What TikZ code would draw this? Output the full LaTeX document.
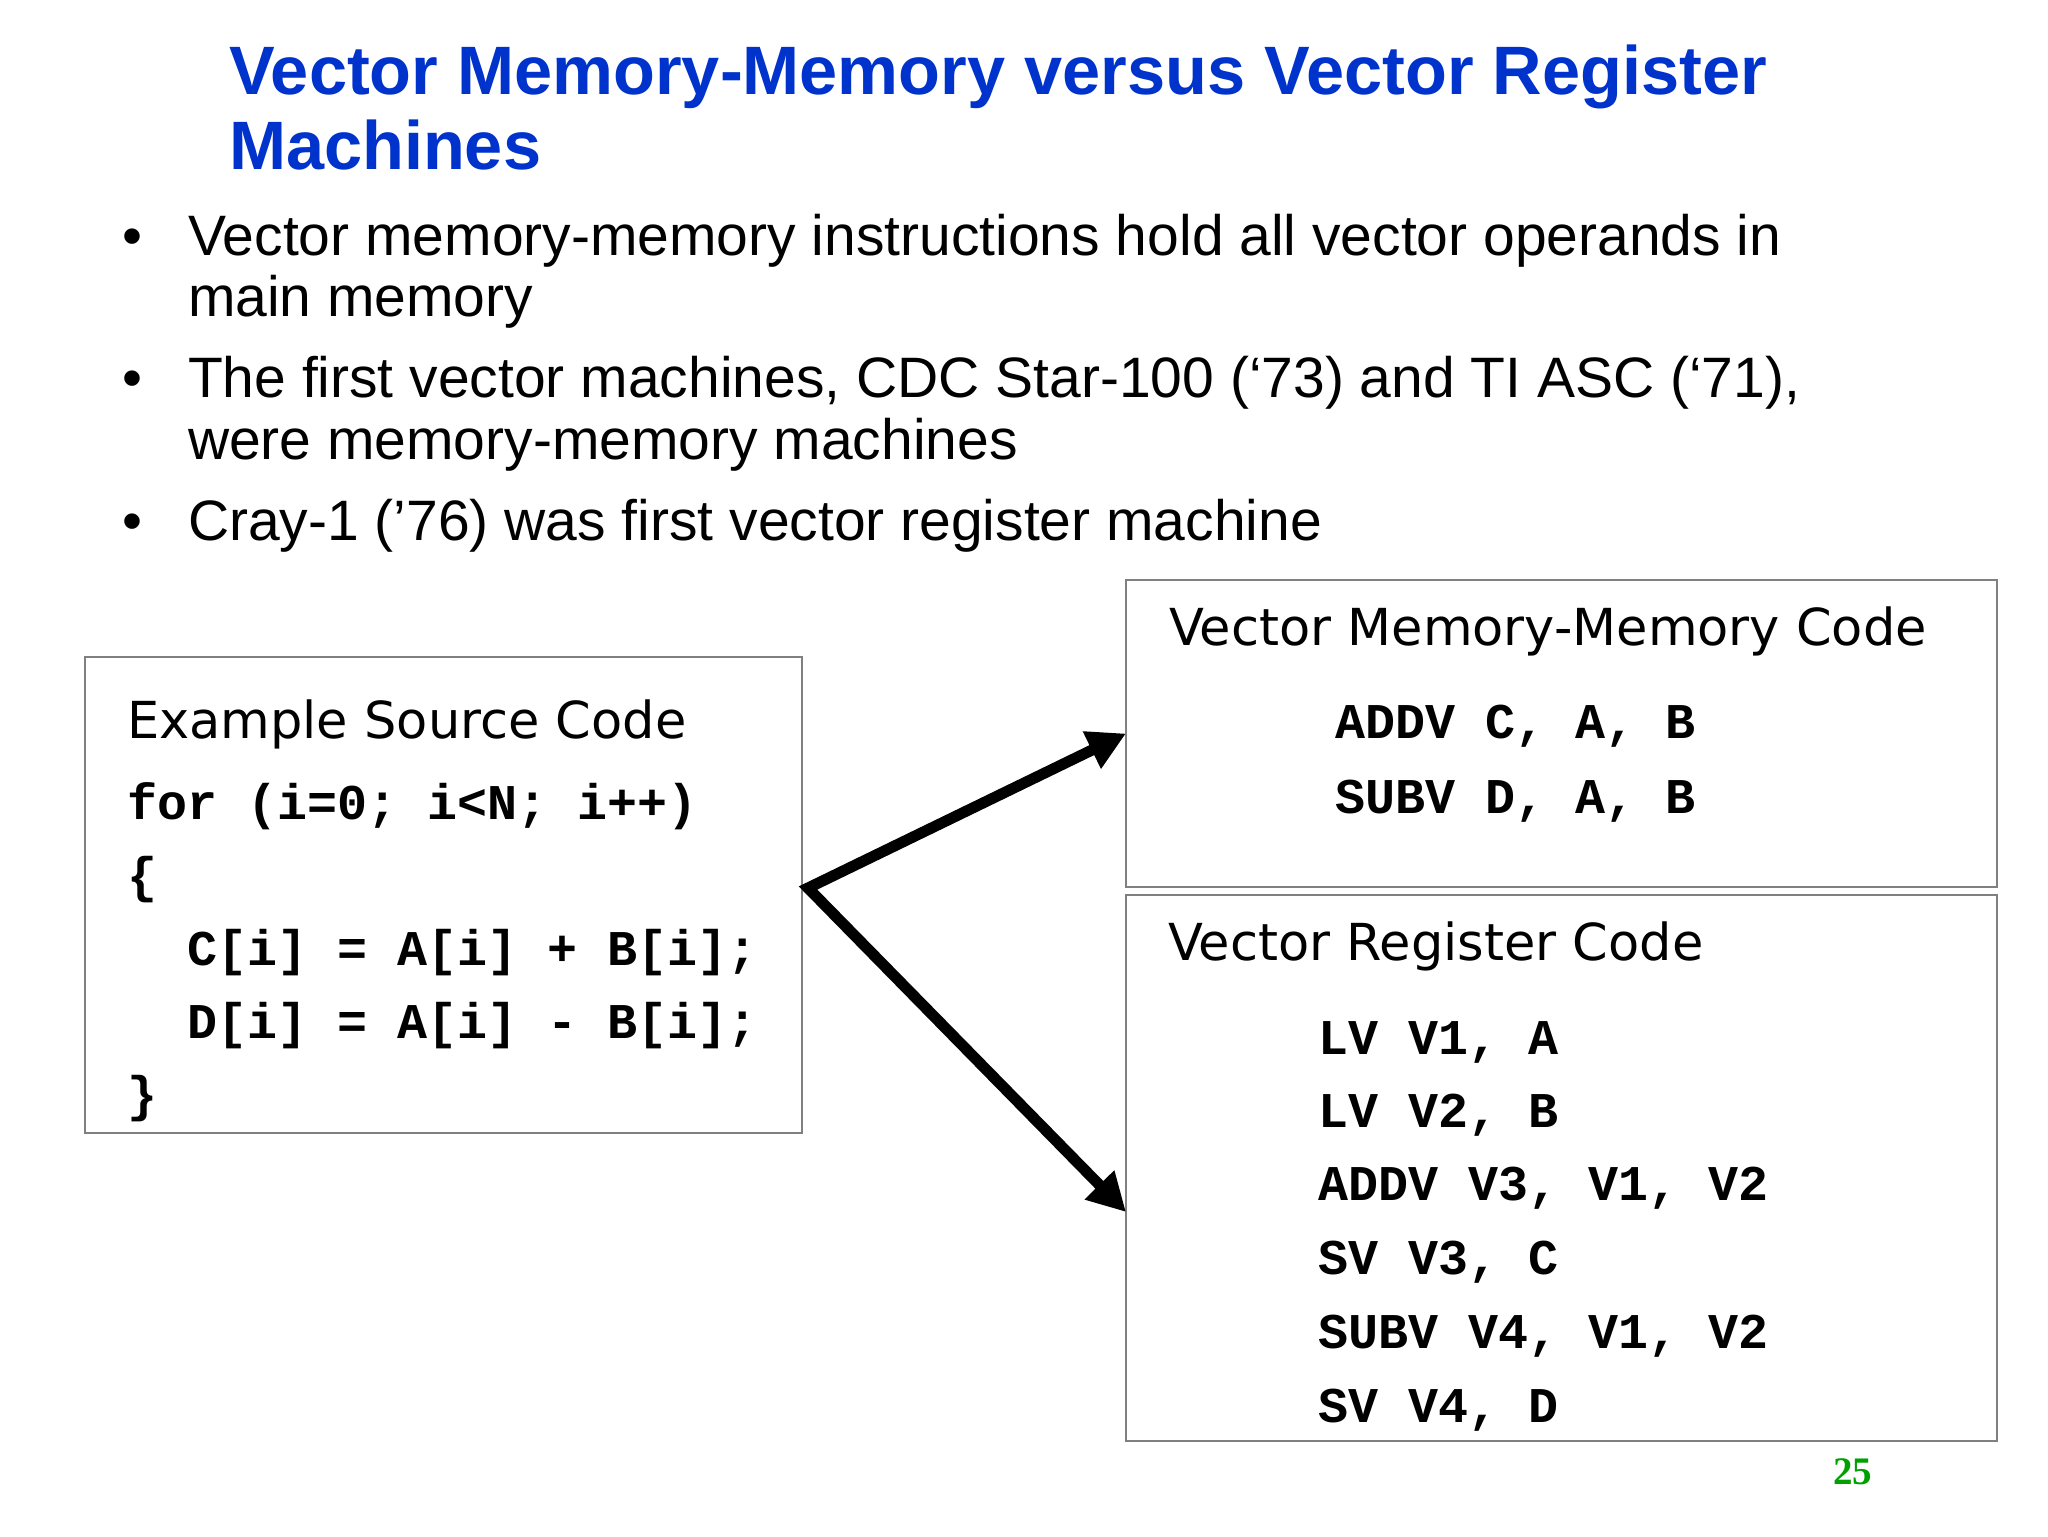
\documentclass[tikz,border=0pt]{standalone}
\usepackage{fontspec}
\setmainfont{Liberation Sans}
\newfontfamily\boxfont{DejaVu Sans}
\newfontfamily\codefont{Liberation Mono}
\newfontfamily\numfont{Liberation Serif}
\usetikzlibrary{arrows.meta}
\definecolor{titleblue}{RGB}{0,51,204}
\definecolor{pagegreen}{RGB}{0,160,0}
\definecolor{boxgray}{RGB}{128,128,128}
\frenchspacing
\begin{document}
\begin{tikzpicture}[x=0.5pt,y=-0.5pt,
  txt/.style={anchor=base west, inner sep=0pt, outer sep=0pt},
  titletxt/.style={txt, font=\fontsize{34.25}{40}\selectfont\bfseries, text=titleblue},
  bullettxt/.style={txt, font=\fontsize{28.5}{34}\selectfont},
  boxtitle/.style={txt, font=\boxfont\fontsize{25.5}{30}\selectfont},
  codetxt/.style={txt, font=\codefont\fontsize{25}{30}\selectfont\bfseries},
  codebox/.style={draw=boxgray, line width=1pt, rectangle, anchor=north west, inner sep=0pt, outer sep=0pt},
  arr/.style={line width=5.5pt, miter limit=10, {Triangle[length=19pt,width=19.5pt]}-{Triangle[length=19pt,width=19.5pt]}}
]
\useasboundingbox[fill=white] (0,0) rectangle (2048,1536);

% title
\node[titletxt] (t1) at (229,95) {Vector Memory-Memory versus Vector Register};
\node[titletxt] (t2) at (229,169) {Machines};

% bullets
\node[bullettxt] (d1) at (122,255) {•};
\node[bullettxt] (b1a) at (188,255) {Vector memory-memory instructions hold all vector operands in};
\node[bullettxt] (b1b) at (188,316) {main memory};
\node[bullettxt] (d2) at (122,397) {•};
\node[bullettxt] (b2a) at (188,397) {The first vector machines, CDC Star-100 (‘73) and TI ASC (‘71),};
\node[bullettxt] (b2b) at (188,459) {were memory-memory machines};
\node[bullettxt] (d3) at (122,540) {•};
\node[bullettxt] (b3) at (188,540) {Cray-1 (’76) was first vector register machine};

% boxes
\node[codebox, minimum width=358.5pt, minimum height=238pt] (src) at (85,657) {};
\node[codebox, minimum width=435.5pt, minimum height=153.5pt] (mm) at (1126,580) {};
\node[codebox, minimum width=435.5pt, minimum height=273pt] (reg) at (1126,895) {};

% source box text
\node[boxtitle] (srct) at (127,738) {Example Source Code};
\node[codetxt] (s1) at (127,819) {for (i=0; i<N; i++)};
\node[codetxt] (s2) at (127,892) {\{};
\node[codetxt] (s3) at (187,965) {C[i] = A[i] + B[i];};
\node[codetxt] (s4) at (187,1038) {D[i] = A[i] - B[i];};
\node[codetxt] (s5) at (127,1111) {\}};

% memory-memory box text
\node[boxtitle] (mmt) at (1169,645) {Vector Memory-Memory Code};
\node[codetxt] (m1) at (1335,738) {ADDV C, A, B};
\node[codetxt] (m2) at (1335,813) {SUBV D, A, B};

% register box text
\node[boxtitle] (regt) at (1168,960) {Vector Register Code};
\node[codetxt] (r1) at (1318,1054) {LV V1, A};
\node[codetxt] (r2) at (1318,1127) {LV V2, B};
\node[codetxt] (r3) at (1318,1200) {ADDV V3, V1, V2};
\node[codetxt] (r4) at (1318,1274) {SV V3, C};
\node[codetxt] (r5) at (1318,1348) {SUBV V4, V1, V2};
\node[codetxt] (r6) at (1318,1422) {SV V4, D};

% arrows
\coordinate (fork) at (808,888);
\coordinate (regin) at (1126,1212);
\draw[arr] (regin) -- (fork) -- (mm.west);

% page number
\node[txt, font=\numfont\fontsize{19.5}{22}\selectfont\bfseries, text=pagegreen] (pg) at (1833,1484) {25};
\end{tikzpicture}
\end{document}
